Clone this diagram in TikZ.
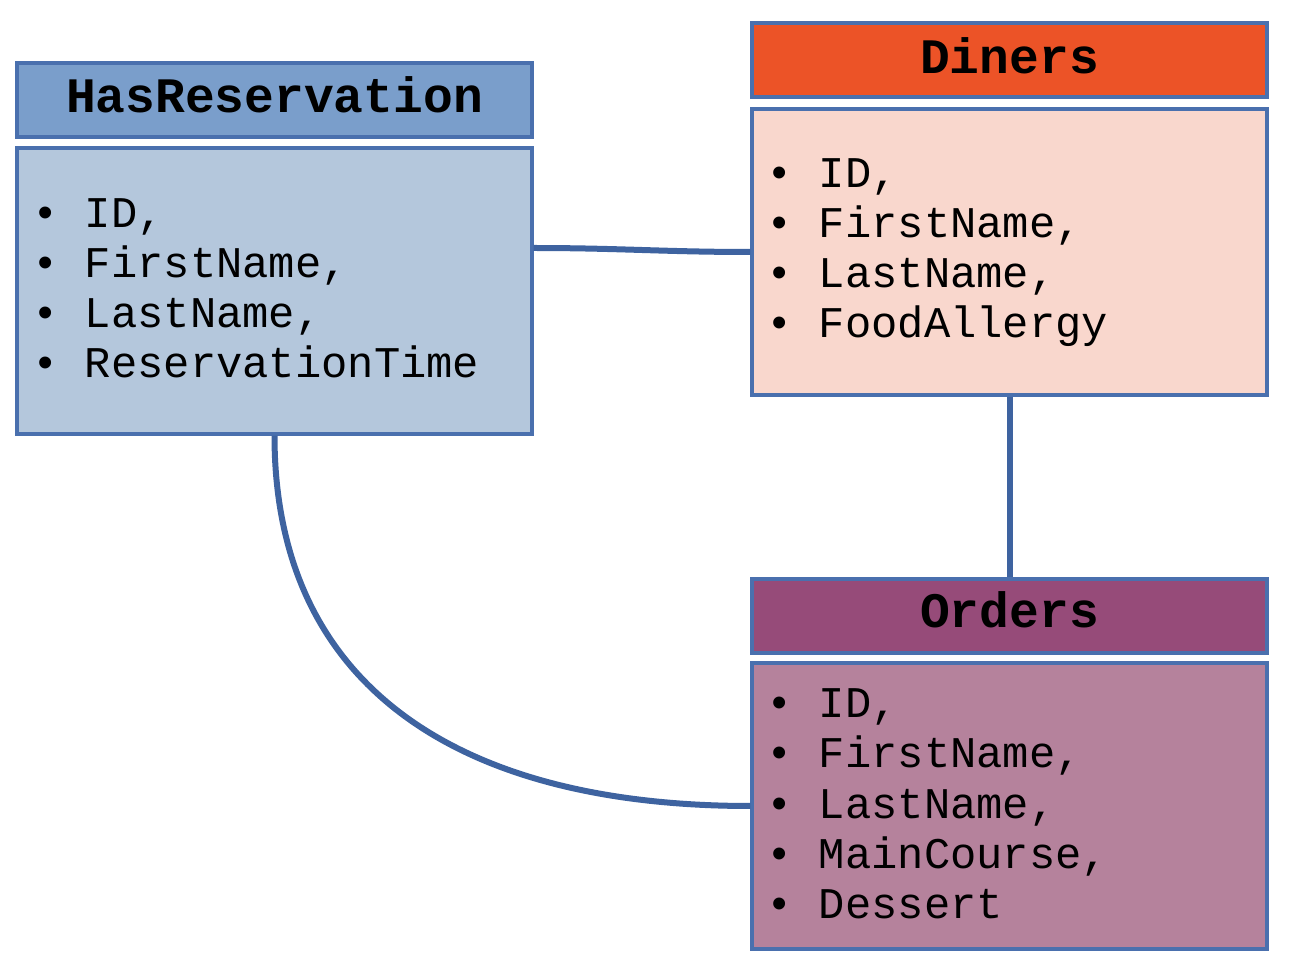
\documentclass[tikz,border=0pt]{standalone}
\usepackage{fontspec}
\setmonofont{Liberation Mono}
\definecolor{hrhead}{HTML}{7A9ECB}
\definecolor{hrbody}{HTML}{B4C7DC}
\definecolor{dhead}{HTML}{EC5327}
\definecolor{dbody}{HTML}{F9D7CD}
\definecolor{ohead}{HTML}{964B79}
\definecolor{obody}{HTML}{B5829C}
\definecolor{edge}{HTML}{4A70AE}
\definecolor{conn}{HTML}{3E63A0}
\begin{document}
\begin{tikzpicture}[x=0.5pt,y=-0.5pt,
  headbox/.style={draw=edge,line width=1.6pt,minimum width=257.5pt,minimum height=37pt,inner sep=0pt},
  headtext/.style={inner sep=0pt,font=\ttfamily\bfseries\fontsize{24.8pt}{28pt}\selectfont},
  bodybox/.style={draw=edge,line width=1.6pt,minimum width=257.5pt,minimum height=143pt,inner sep=0pt},
  itemline/.style={anchor=base west,inner sep=0pt,font=\ttfamily\fontsize{21.9pt}{25pt}\selectfont},
  connector/.style={draw=conn,line width=3pt}]
\useasboundingbox (0,0) rectangle (1298,968);
% boxes
\node[headbox,fill=hrhead] (hrh) at (274.5,100) {};
\node[bodybox,fill=hrbody] (hrb) at (274.5,291) {};
\node[headbox,fill=dhead] (dh) at (1009.5,60) {};
\node[bodybox,fill=dbody] (db) at (1009.5,252) {};
\node[headbox,fill=ohead] (oh) at (1009.5,616) {};
\node[bodybox,fill=obody] (ob) at (1009.5,806) {};
% titles
\node[headtext,anchor=base] (hrt) at (274.5,113) {HasReservation};
\node[headtext,anchor=base] (dt) at (1009.5,74) {Diners};
\node[headtext,anchor=base] (ot) at (1009.5,628) {Orders};
% items
\foreach \t [count=\i from 0] in {ID{,},FirstName{,},LastName{,},ReservationTime}
  \node[itemline] (hr\i) at (32,228+50*\i) {• \t};
\foreach \t [count=\i from 0] in {ID{,},FirstName{,},LastName{,},FoodAllergy}
  \node[itemline] (di\i) at (766,188+50*\i) {• \t};
\foreach \t [count=\i from 0] in {ID{,},FirstName{,},LastName{,},MainCourse{,},Dessert}
  \node[itemline] (or\i) at (766,718+50*\i) {• \t};
% connectors
\coordinate (hrconn) at ([yshift=21.5pt]hrb.east);
\draw[connector] (hrconn) to[out=0,in=180] (db.west);
\draw[connector] (db.south) -- (oh.north);
\draw[connector] (hrb.south) .. controls (274.5,680) and (450,806) .. (ob.west);
\end{tikzpicture}
\end{document}
